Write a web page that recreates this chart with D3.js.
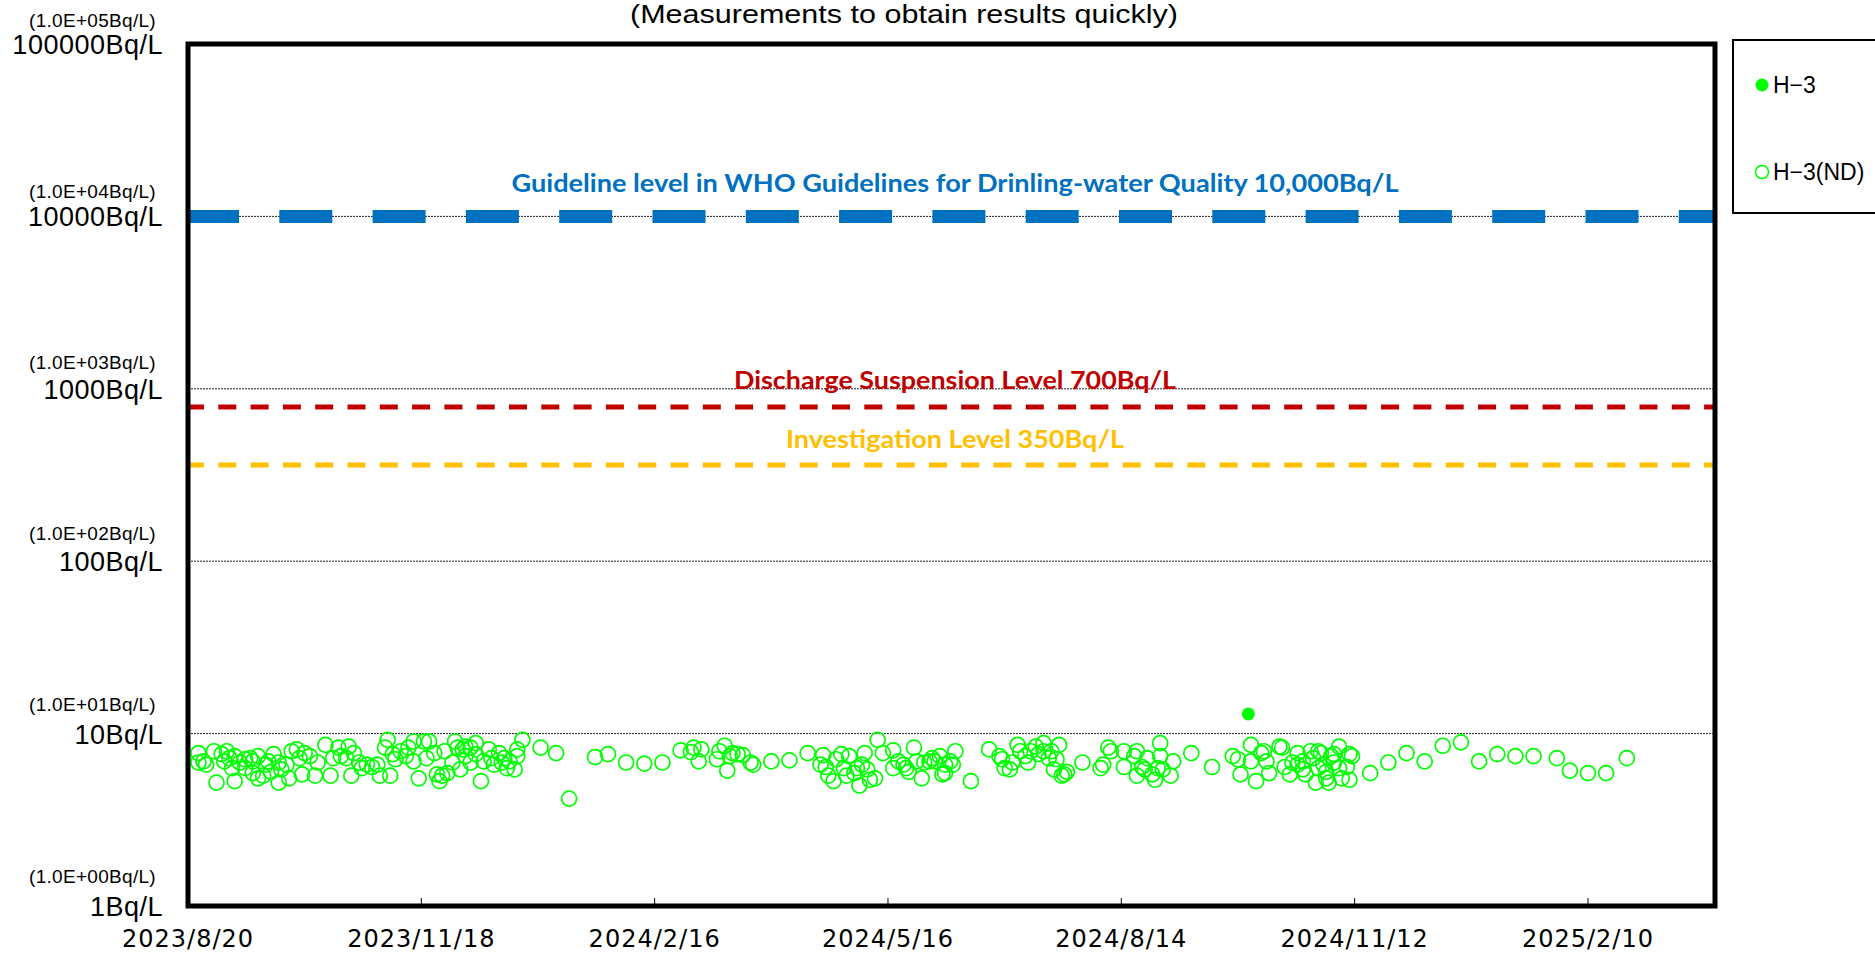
<!DOCTYPE html>
<html lang="en">
<head>
<meta charset="UTF-8">
<title>H-3 quick measurements</title>
<script src="https://d3js.org/d3.v7.min.js"></script>
<style>
  body { margin: 0; background: #fff; }
  svg { display: block; }
</style>
</head>
<body>
<svg width="1875" height="953"></svg>
<script>
// ---- data ----
const chartTitle = "(Measurements to obtain results quickly)";
const xDomain = ["2023-08-20", "2025-03-31"];
const xTickDates = ["2023-08-20", "2023-11-18", "2024-02-16", "2024-05-16", "2024-08-14", "2024-11-12", "2025-02-10"];
const xTickLabels = ["2023/8/20", "2023/11/18", "2024/2/16", "2024/5/16", "2024/8/14", "2024/11/12", "2025/2/10"];

const yTicks = [1, 10, 100, 1000, 10000, 100000];
const yTickLabels = ["1Bq/L", "10Bq/L", "100Bq/L", "1000Bq/L", "10000Bq/L", "100000Bq/L"];
const yTickSubLabels = ["(1.0E+00Bq/L)", "(1.0E+01Bq/L)", "(1.0E+02Bq/L)", "(1.0E+03Bq/L)", "(1.0E+04Bq/L)", "(1.0E+05Bq/L)"];
const gridValues = [10, 100, 1000, 10000];

// reference levels (value = where the line sits in the picture)
const refNames = ["Guideline level in WHO Guidelines for Drinling-water Quality 10,000Bq/L",
                  "Discharge Suspension Level 700Bq/L",
                  "Investigation Level 350Bq/L"];
const refValues = [10000, 785, 362];

const legendNames = ["H\u22123", "H\u22123(ND)"];

// samples: [Excel serial date, Bq/L]
const detectedSamples = [[45567, 13]];
const ndSamples = [
  [45162,7.7],[45162,6.8],[45164,6.9],[45165,6.6],[45168,7.9],[45169,5.2],[45171,7.6],[45172,6.9],[45173,7.9],[45174,7.2],
  [45175,6.3],[45176,5.3],[45176,7.4],[45178,6.8],[45180,7.1],[45180,6.3],[45182,7.2],[45183,5.9],[45183,6.9],[45185,7.4],
  [45185,5.5],[45187,5.7],[45188,6.6],[45189,6.9],[45190,6.0],[45191,7.6],[45193,6.8],[45193,5.2],[45194,6.2],[45196,6.6],
  [45197,5.5],[45198,7.9],[45200,8.1],[45201,7.2],[45202,5.8],[45203,7.7],[45205,7.4],[45207,5.7],[45208,6.8],[45211,8.6],
  [45213,5.7],[45214,7.2],[45216,8.3],[45217,7.4],[45219,7.2],[45220,8.4],[45221,5.7],[45222,7.7],[45224,6.8],[45225,6.3],
  [45227,6.6],[45229,6.4],[45231,6.6],[45232,5.7],[45234,8.3],[45235,9.2],[45237,7.6],[45236,5.7],[45238,7.1],[45240,7.9],
  [45242,7.4],[45243,8.3],[45245,9.0],[45245,6.9],[45247,5.5],[45249,9.0],[45250,7.2],[45251,9.0],[45253,7.7],[45254,5.8],
  [45255,5.3],[45256,5.7],[45257,7.9],[45258,5.9],[45260,6.8],[45261,9.0],[45262,8.3],[45263,6.2],[45264,8.1],[45265,8.4],
  [45265,7.4],[45267,8.3],[45267,6.8],[45269,8.8],[45269,7.6],[45271,5.3],[45272,6.9],[45274,8.1],[45275,7.2],[45276,6.6],
  [45278,7.7],[45279,6.8],[45280,7.2],[45281,6.3],[45282,6.9],[45284,6.2],[45285,7.4],[45285,8.1],[45287,9.2],[45294,8.3],
  [45300,7.7],[45305,4.2],
  [45315,7.3],[45320,7.6],[45327,6.8],[45334,6.7],[45341,6.8],[45348,8.0],[45352,7.8],[45353,8.3],[45356,8.1],[45355,6.9],
  [45362,7.1],[45363,7.9],[45365,8.5],[45366,6.1],[45367,7.4],[45368,7.7],[45370,7.6],[45372,7.5],[45375,6.8],[45376,6.6],
  [45383,6.9],[45390,7.0],[45397,7.7],[45403,7.5],[45402,6.6],[45404,6.4],[45405,5.7],[45407,5.3],[45408,7.1],[45410,7.6],
  [45411,6.3],[45412,5.7],[45413,7.4],[45415,5.9],[45416,6.3],[45417,5.0],[45418,6.6],[45419,7.7],[45420,6.2],[45421,5.4],
  [45423,5.5],[45424,9.2],[45426,7.7],[45430,8.0],[45430,6.3],[45432,6.9],[45434,6.6],[45435,6.3],[45436,6.0],[45438,8.3],
  [45439,6.9],[45441,5.5],[45442,6.8],[45444,6.9],[45445,7.2],[45446,6.9],[45448,7.4],[45449,5.8],[45450,6.6],[45452,6.9],
  [45453,6.6],[45450,5.9],[45454,7.9],[45460,5.3],[45467,8.1],[45471,7.4],[45472,7.1],[45473,6.3],[45475,6.2],[45476,6.8],
  [45478,8.6],[45479,7.9],[45481,7.4],[45482,6.8],[45483,7.9],[45485,8.4],[45486,7.6],[45488,7.9],[45488,8.8],[45490,7.2],
  [45491,7.9],[45492,6.2],[45493,7.1],[45494,8.6],[45495,5.7],[45496,5.8],[45497,6.0],[45503,6.8],[45510,6.3],[45511,6.6],
  [45513,8.3],[45514,7.9],[45519,7.9],[45519,6.4],[45523,7.4],[45524,7.9],[45524,5.7],[45526,6.4],[45527,6.2],[45528,7.2],
  [45530,5.8],[45531,5.4],[45532,6.3],[45533,8.8],[45533,7.4],[45534,6.2],[45537,5.7],[45538,6.9],[45545,7.7],[45553,6.4],
  [45561,7.4],[45563,7.1],[45564,5.8],[45568,8.6],[45568,6.9],[45570,5.3],[45572,7.7],[45573,7.9],[45574,6.9],[45575,5.9],
  [45579,8.4],[45580,8.3],[45581,6.4],[45583,5.8],[45584,6.8],[45586,6.6],[45586,7.7],[45588,6.2],[45588,6.9],[45589,5.8],
  [45591,7.9],[45592,7.2],[45593,5.2],[45594,6.3],[45594,7.9],[45596,6.6],[45597,6.0],[45598,5.2],[45599,7.4],[45600,6.8],
  [45602,8.4],[45595,7.7],[45597,5.5],[45600,7.6],[45602,6.3],[45603,5.5],[45605,6.4],[45606,7.6],[45606,5.4],[45607,7.4],
  [45614,5.9],[45621,6.8],[45628,7.7],[45635,6.9],[45642,8.5],[45649,8.9],[45656,6.9],[45663,7.6],[45670,7.4],[45677,7.4],
  [45686,7.2],[45691,6.1],[45698,5.9],[45705,5.9],[45713,7.2]
];

// ---- layout ----
const plot = { left: 188, right: 1715, top: 44, bottom: 906 };
const green = "#00ff00";
const refColors = ["#0070c0", "#c00000", "#ffc000"];

const parseDay = d3.utcParse("%Y-%m-%d");
const fromSerial = s => new Date(Date.UTC(1899, 11, 30) + s * 864e5);

const svg = d3.select("svg");

const x = d3.scaleUtc()
    .domain(xDomain.map(parseDay))
    .range([plot.left, plot.right]);

const y = d3.scaleLog()
    .domain([1, 100000])
    .range([plot.bottom, plot.top]);

// title
svg.append("text")
    .attr("x", 904).attr("y", 14)
    .attr("text-anchor", "middle")
    .attr("dominant-baseline", "central")
    .attr("font-family", "'Liberation Sans Narrow', 'Liberation Sans', sans-serif")
    .attr("font-size", 26)
    .attr("textLength", 548)
    .attr("lengthAdjust", "spacingAndGlyphs")
    .text(chartTitle);

// dotted gridlines
svg.append("g").selectAll("line")
    .data(gridValues)
    .join("line")
    .attr("x1", plot.left).attr("x2", plot.right)
    .attr("y1", d => y(d)).attr("y2", d => y(d))
    .attr("stroke", "#222")
    .attr("stroke-width", 1)
    .attr("stroke-dasharray", "2 1");

// reference levels
const refStyle = [
    { width: 13, dash: "53 40.3" },
    { width: 5, dash: "18 14.3" },
    { width: 5, dash: "18 14.3" }
];
svg.append("g").selectAll("line")
    .data(refValues)
    .join("line")
    .attr("x1", plot.left - 2).attr("x2", plot.right)
    .attr("y1", d => y(d)).attr("y2", d => y(d))
    .attr("stroke", (d, i) => refColors[i])
    .attr("stroke-width", (d, i) => refStyle[i].width)
    .attr("stroke-dasharray", (d, i) => refStyle[i].dash);

// reference labels
const refLabelPos = [{ y: 182, w: 887 }, { y: 379, w: 442 }, { y: 438, w: 338 }];
svg.append("g").selectAll("text")
    .data(refNames)
    .join("text")
    .attr("x", 955)
    .attr("y", (d, i) => refLabelPos[i].y)
    .attr("text-anchor", "middle")
    .attr("dominant-baseline", "central")
    .attr("font-family", "Lato, 'Open Sans', sans-serif")
    .attr("font-weight", "bold")
    .attr("font-size", 24)
    .attr("textLength", (d, i) => refLabelPos[i].w)
    .attr("lengthAdjust", "spacingAndGlyphs")
    .attr("fill", (d, i) => refColors[i])
    .text(d => d);

// ND points (open circles)
svg.append("g").selectAll("circle")
    .data(ndSamples)
    .join("circle")
    .attr("cx", d => x(fromSerial(d[0])))
    .attr("cy", d => y(d[1]))
    .attr("r", 7.5)
    .attr("fill", "none")
    .attr("stroke", green)
    .attr("stroke-width", 1.7);

// detected points (filled)
svg.append("g").selectAll("circle")
    .data(detectedSamples)
    .join("circle")
    .attr("cx", d => x(fromSerial(d[0])))
    .attr("cy", d => y(d[1]))
    .attr("r", 6.5)
    .attr("fill", green);

// x ticks (inside) and labels
svg.append("g").selectAll("line")
    .data(xTickDates)
    .join("line")
    .attr("x1", d => x(parseDay(d))).attr("x2", d => x(parseDay(d)))
    .attr("y1", plot.bottom).attr("y2", plot.bottom - 8)
    .attr("stroke", "#000")
    .attr("stroke-width", 1);

svg.append("g").selectAll("text")
    .data(xTickDates)
    .join("text")
    .attr("x", d => x(parseDay(d)))
    .attr("y", 939)
    .attr("text-anchor", "middle")
    .attr("dominant-baseline", "central")
    .attr("font-family", "'DejaVu Sans', sans-serif")
    .attr("font-size", 24)
    .attr("letter-spacing", 1)
    .text((d, i) => xTickLabels[i]);

// y labels
const yLab = svg.append("g")
    .attr("font-family", "'Liberation Sans', Arial, sans-serif")
    .attr("text-anchor", "end")
    .attr("dominant-baseline", "central");

yLab.selectAll("text.main")
    .data(yTicks)
    .join("text")
    .attr("class", "main")
    .attr("x", 163)
    .attr("y", d => y(d) + 1)
    .attr("font-size", 27)
    .attr("letter-spacing", 0.5)
    .text((d, i) => yTickLabels[i]);

yLab.selectAll("text.sub")
    .data(yTicks)
    .join("text")
    .attr("class", "sub")
    .attr("x", 156)
    .attr("y", (d, i) => y(d) - 24 - 1.2 * (yTicks.length - 1 - i))
    .attr("font-size", 19)
    .attr("letter-spacing", 0.3)
    .text((d, i) => yTickSubLabels[i]);

// plot frame
svg.append("rect")
    .attr("x", plot.left).attr("y", plot.top)
    .attr("width", plot.right - plot.left)
    .attr("height", plot.bottom - plot.top)
    .attr("fill", "none")
    .attr("stroke", "#000")
    .attr("stroke-width", 5);

// legend
const legend = svg.append("g");
legend.append("rect")
    .attr("x", 1733).attr("y", 40)
    .attr("width", 200).attr("height", 173)
    .attr("fill", "#fff")
    .attr("stroke", "#000")
    .attr("stroke-width", 2);

const legendY = [85, 172];
legend.selectAll("circle")
    .data(legendNames)
    .join("circle")
    .attr("cx", 1762)
    .attr("cy", (d, i) => legendY[i])
    .attr("r", 6.5)
    .attr("fill", (d, i) => i === 0 ? green : "#fff")
    .attr("stroke", green)
    .attr("stroke-width", (d, i) => i === 0 ? 0 : 1.5);

legend.selectAll("text")
    .data(legendNames)
    .join("text")
    .attr("x", 1773)
    .attr("y", (d, i) => legendY[i])
    .attr("dominant-baseline", "central")
    .attr("font-family", "'Liberation Sans', Arial, sans-serif")
    .attr("font-size", 23)
    .text(d => d);
</script>
</body>
</html>
